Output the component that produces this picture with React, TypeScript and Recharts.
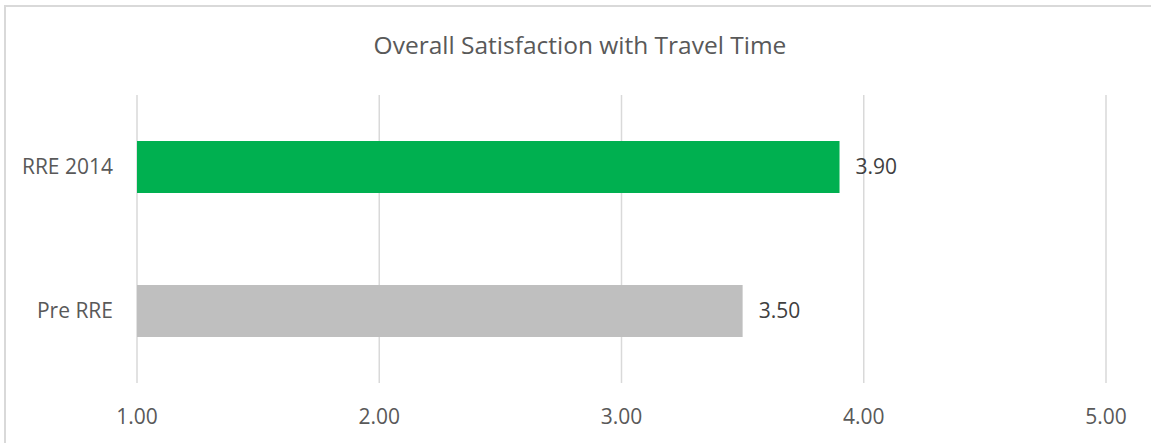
import React from 'react';
import { BarChart, Bar, XAxis, YAxis, CartesianGrid, Cell, LabelList } from 'recharts';

const categories = ['RRE 2014', 'Pre RRE'];
const scores = [3.9, 3.5];
const barColors = ['#00B050', '#BFBFBF'];
const xTicks = [1, 2, 3, 4, 5];

const data = categories.map((name, i) => ({ name, score: scores[i] }));

const FONT = '"Open Sans", sans-serif';

const App = () => {
	return (
		<div style={{ position: 'absolute', left: 0, top: 0, width: 1151, height: 443, overflow: 'hidden', background: '#fff', fontFamily: FONT }}>
			<div style={{ position: 'absolute', left: 4, top: 5, width: 1200, height: 500, border: '2px solid #D9D9D9' }} />
			<div style={{ position: 'absolute', left: 0, top: 28, width: 1160, textAlign: 'center', fontSize: 24.5, lineHeight: '34px', color: '#595959' }}>
				Overall Satisfaction with Travel Time
			</div>
			<div style={{ position: 'absolute', left: 0, top: 0 }}>
				<BarChart
					layout="vertical"
					width={1151}
					height={443}
					data={data}
					margin={{ top: 95, right: 45, bottom: 0, left: 0 }}
				>
					<CartesianGrid horizontal={false} stroke="#D9D9D9" strokeWidth={1.5} />
					<XAxis
						type="number"
						domain={[1, 5]}
						ticks={xTicks}
						tickFormatter={(v: number) => v.toFixed(2)}
						axisLine={false}
						tickLine={false}
						tickSize={0}
						tickMargin={26}
						height={60}
						tick={{ fill: '#595959', fontSize: 21, fontFamily: FONT }}
					/>
					<YAxis
						type="category"
						dataKey="name"
						width={137}
						axisLine={false}
						tickLine={false}
						tickSize={0}
						tickMargin={24}
						tick={{ fill: '#595959', fontSize: 21, fontFamily: FONT }}
					/>
					<Bar dataKey="score" barSize={52} isAnimationActive={false}>
						{data.map((d, i) => (
							<Cell key={d.name} fill={barColors[i]} />
						))}
						<LabelList
							dataKey="score"
							position="right"
							offset={16}
							formatter={(v: any) => Number(v).toFixed(2)}
							style={{ fill: '#404040', fontSize: 21, fontFamily: FONT }}
						/>
					</Bar>
				</BarChart>
			</div>
		</div>
	);
};

export default App;
